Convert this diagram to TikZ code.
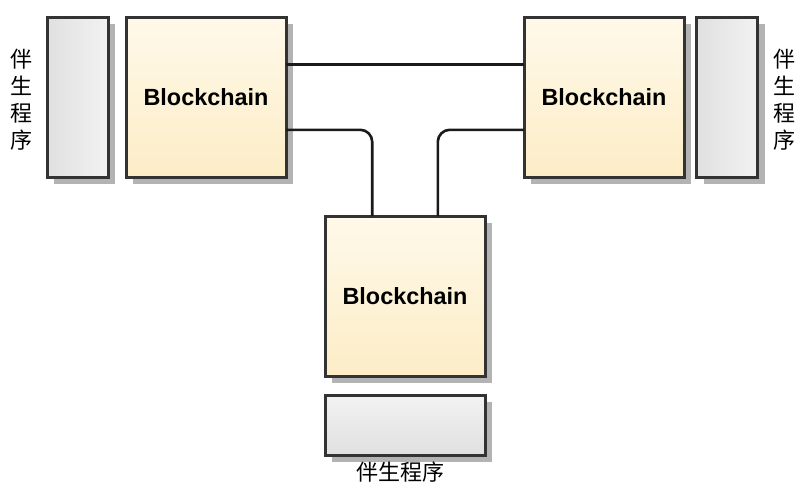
\documentclass[tikz,border=0pt]{standalone}
\usepackage{fontspec}
\setmainfont{Liberation Sans}
\newfontfamily\cjk{Noto Sans CJK SC}
\usetikzlibrary{shadows,calc}
\definecolor{edge}{HTML}{333333}
\definecolor{wire}{HTML}{1A1A1A}
\definecolor{shade}{HTML}{B3B3B3}
\definecolor{ytop}{HTML}{FFF9EA}
\definecolor{ybot}{HTML}{FCEDC6}
\definecolor{glight}{HTML}{F2F2F2}
\definecolor{gdark}{HTML}{E0E0E0}
\tikzset{
  boxbase/.style={draw=edge, line width=3pt, inner sep=0pt, outer sep=0pt,
    drop shadow={shadow xshift=7pt, shadow yshift=-7pt, fill=shade, opacity=1}},
  chain/.style={boxbase, minimum width=160pt, minimum height=160pt,
    top color=ytop, bottom color=ybot,
    font=\fontsize{23.4}{26}\selectfont\bfseries},
  sidev/.style={boxbase, minimum width=61pt, minimum height=160pt,
    left color=gdark, right color=glight},
  sideh/.style={boxbase, minimum width=160pt, minimum height=60pt,
    top color=glight, bottom color=gdark},
  lbl/.style={font=\cjk\fontsize{22}{27}\selectfont, align=center, inner sep=0pt},
  conn/.style={draw=wire, line width=2.6pt, rounded corners=12pt}
}
\begin{document}
\begin{tikzpicture}[x=1pt,y=-1pt]
\useasboundingbox[fill=white] (0,0) rectangle (797,483);
% side components
\node[sidev] (ls) at (77.5,97) {};
\node[sidev] (rs) at (727,97) {};
\node[sideh] (bs) at (405,425) {};
% blockchain nodes
\node[chain] (lb) at (206,97) {Blockchain};
\node[chain] (rb) at (604,97) {Blockchain};
\node[chain] (bb) at (405,296) {Blockchain};
% labels
\node[lbl] (lt) at (21,100) {伴\\生\\程\\序};
\node[lbl] (rt) at (784,100) {伴\\生\\程\\序};
\node[lbl] (bt) at (400,472) {伴生程序};
% links
\draw[conn] ($(lb.north east)!0.295!(lb.south east)$) -- ($(rb.north west)!0.295!(rb.south west)$);
\draw[conn] ($(lb.north east)!0.705!(lb.south east)$) -| ($(bb.north west)!0.295!(bb.north east)$);
\draw[conn] ($(rb.north west)!0.705!(rb.south west)$) -| ($(bb.north west)!0.705!(bb.north east)$);
\end{tikzpicture}
\end{document}
